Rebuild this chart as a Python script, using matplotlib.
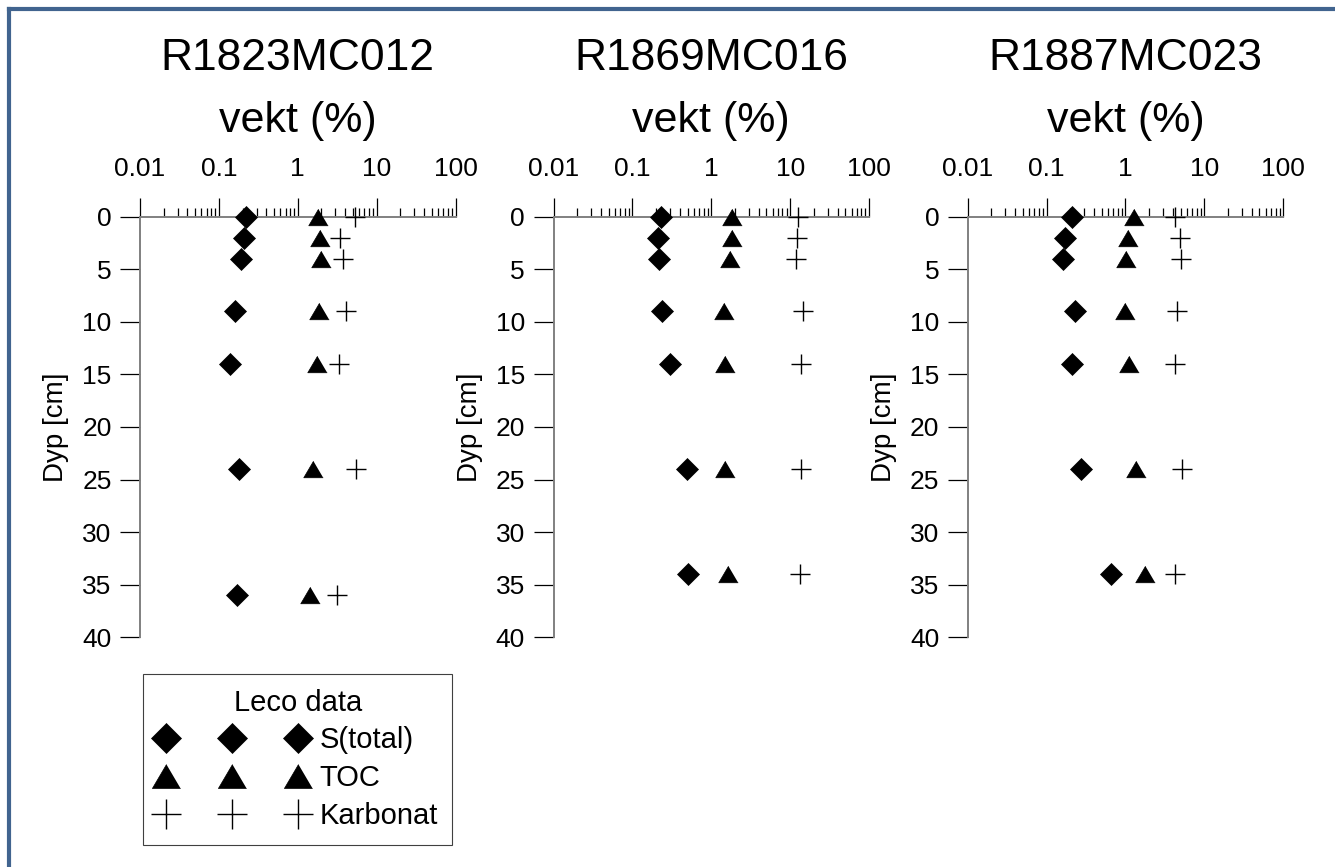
import numpy as np
import matplotlib
matplotlib.use("Agg")
import matplotlib.pyplot as plt
from matplotlib.lines import Line2D
from matplotlib.ticker import FixedLocator, FuncFormatter

plt.rcParams['font.family'] = ['Liberation Sans', 'DejaVu Sans']

# Leco data per core: depth (cm) and weight percent
cores = ['R1823MC012', 'R1869MC016', 'R1887MC023']

depth_012 = [0, 2, 4, 9, 14, 24, 36]
s_012 = [0.22, 0.21, 0.19, 0.16, 0.14, 0.18, 0.17]
toc_012 = [1.83, 1.90, 1.99, 1.88, 1.76, 1.58, 1.45]
karb_012 = [5.3, 3.4, 3.8, 4.05, 3.35, 5.4, 3.15]

depth_016 = [0, 2, 4, 9, 14, 24, 34]
s_016 = [0.23, 0.21, 0.22, 0.24, 0.30, 0.49, 0.50]
toc_016 = [1.85, 1.85, 1.73, 1.44, 1.50, 1.51, 1.65]
karb_016 = [12.5, 12.1, 11.9, 14.4, 13.7, 13.6, 13.4]

depth_023 = [0, 2, 4, 9, 14, 24, 34]
s_023 = [0.21, 0.17, 0.16, 0.23, 0.21, 0.27, 0.66]
toc_023 = [1.29, 1.09, 1.01, 1.00, 1.11, 1.36, 1.75]
karb_023 = [4.3, 4.9, 5.0, 4.55, 4.2, 5.2, 4.2]

depths = [depth_012, depth_016, depth_023]
s_total = [s_012, s_016, s_023]
toc = [toc_012, toc_016, toc_023]
karbonat = [karb_012, karb_016, karb_023]

W, H = 1335, 867
fig = plt.figure(figsize=(W / 100, H / 100), dpi=100)

# flattened triangle
tri = [(0, 0.85), (-1, -0.85), (1, -0.85)]
axcol = '#808080'

lefts = [140, 553.5, 967.7]
axw = 315.5
top, bottom = 216.5, 637.3

for i in range(3):
    ax = fig.add_axes([lefts[i] / W, 1 - bottom / H, axw / W, (bottom - top) / H])
    ax.set_xscale('log')
    ax.set_xlim(0.01, 100)
    ax.set_ylim(40, 0)

    ax.plot(s_total[i], depths[i], linestyle='none', marker='D', ms=10.8,
            mfc='black', mec='black', mew=0.5, clip_on=False, zorder=3, label='S(total)')
    ax.plot(toc[i], depths[i], linestyle='none', marker=tri, ms=14,
            mfc='black', mec='black', mew=0.5, clip_on=False, zorder=3, label='TOC')
    ax.plot(karbonat[i], depths[i], linestyle='none', marker='+', ms=15,
            mfc='black', mec='black', mew=1.0, clip_on=False, zorder=3, label='Karbonat')

    for side in ['bottom', 'right']:
        ax.spines[side].set_visible(False)
    for side in ['top', 'left']:
        ax.spines[side].set_color(axcol)
        ax.spines[side].set_linewidth(1.4)

    ax.xaxis.tick_top()
    ax.xaxis.set_major_locator(FixedLocator([0.01, 0.1, 1, 10, 100]))
    ax.xaxis.set_minor_locator(FixedLocator(
        [m * 10.0 ** e for e in range(-2, 2) for m in range(2, 10)]))
    ax.xaxis.set_major_formatter(FuncFormatter(lambda v, p: '%g' % v))
    ax.xaxis.set_minor_formatter(FuncFormatter(lambda v, p: ''))
    ax.tick_params(axis='x', which='major', direction='out', length=13.5, width=0.9,
                   color='black', labelsize=19, pad=12)
    ax.tick_params(axis='x', which='minor', direction='out', length=6.5, width=0.9,
                   color='black')

    ax.set_yticks(np.arange(0, 41, 5))
    ax.tick_params(axis='y', direction='out', length=14.5, width=0.9, color='black',
                   labelsize=19, pad=6)

    ax.set_ylabel('Dyp [cm]', fontsize=20)
    ax.yaxis.set_label_coords(-0.225, 0.5)

    ax.text(0.5, (bottom - 59) / (bottom - top), cores[i], transform=ax.transAxes,
            ha='center', va='center', fontsize=32)
    ax.text(0.5, (bottom - 121) / (bottom - top), 'vekt (%)', transform=ax.transAxes,
            ha='center', va='center', fontsize=31)

    if i == 0:
        leg = ax.legend(loc='upper left', bbox_to_anchor=(143 / W, 1 - 674 / H),
                        bbox_transform=fig.transFigure, borderaxespad=0,
                        title='Leco data', fontsize=21, title_fontsize=21,
                        numpoints=3, markerscale=1.45, handlelength=5.1,
                        handletextpad=0.45, borderpad=0.5, labelspacing=0.34,
                        fancybox=False, framealpha=1, edgecolor='#404040')
        leg.get_frame().set_linewidth(0.8)

# frame lines along the top and left edges
bc = '#41648f'
fig.add_artist(Line2D([9 / W, 1.0], [1 - 9 / H, 1 - 9 / H], color=bc, lw=3,
                      transform=fig.transFigure))
fig.add_artist(Line2D([9 / W, 9 / W], [0, 1 - 9 / H], color=bc, lw=3,
                      transform=fig.transFigure))

fig.savefig('out.png', dpi=100)
